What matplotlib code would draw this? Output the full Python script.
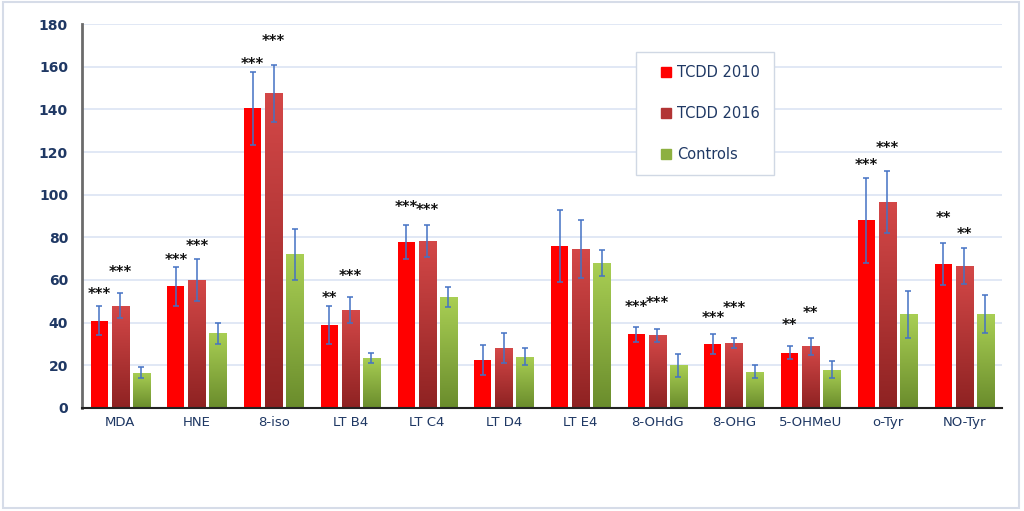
import matplotlib
matplotlib.use("Agg")
import matplotlib.pyplot as plt
import numpy as np
from matplotlib.colors import LinearSegmentedColormap
from matplotlib.lines import Line2D
from matplotlib.patches import Rectangle

# Data
categories = ["MDA", "HNE", "8-iso", "LT B4", "LT C4", "LT D4", "LT E4",
              "8-OHdG", "8-OHG", "5-OHMeU", "o-Tyr", "NO-Tyr"]
tcdd2010 = [41, 57, 140.5, 39, 78, 22.5, 76, 34.5, 30, 26, 88, 67.5]
tcdd2010_err = [7, 9, 17, 9, 8, 7, 17, 3.5, 4.5, 3, 20, 10]
tcdd2016 = [48, 60, 147.5, 46, 78.5, 28, 74.5, 34, 30.5, 29, 96.5, 66.5]
tcdd2016_err = [6, 10, 13.5, 6, 7.5, 7, 13.5, 3, 2.5, 4, 14.5, 8.5]
controls = [16.5, 35, 72, 23.5, 52, 24, 68, 20, 17, 18, 44, 44]
controls_err = [2.5, 5, 12, 2.5, 4.5, 4, 6, 5.5, 3, 4, 11, 9]

# significance marks and the height they sit at
stars2010 = ["***", "***", "***", "**", "***", "", "", "***", "***", "**", "***", "**"]
stars2010_y = [53, 69, 161, 51.5, 94, 0, 0, 47, 42, 38.5, 113.5, 89]
stars2016 = ["***", "***", "***", "***", "***", "", "", "***", "***", "**", "***", "**"]
stars2016_y = [63.5, 75.5, 172, 61.5, 92.5, 0, 0, 49, 46.5, 44.5, 121.5, 81.5]

NAVY = "#1F3864"
ERR = "#4472C4"
RED = "#FF0000"
DARK_TOP, DARK_BOT = "#D44848", "#8E2222"
GREEN_TOP, GREEN_BOT = "#A9CF54", "#6A8C2C"


def gradient_fill(ax, bars, top, bottom):
    """Paint a vertical gradient inside each bar."""
    cmap = LinearSegmentedColormap.from_list("g", [bottom, top])
    grad = np.linspace(0, 1, 256).reshape(-1, 1)
    for b in bars:
        x0, y0 = b.get_x(), b.get_y()
        w, h = b.get_width(), b.get_height()
        im = ax.imshow(grad, cmap=cmap, aspect="auto", origin="lower",
                       extent=[x0, x0 + w, y0, y0 + h], zorder=2.5)
        im.set_clip_path(b)


fig = plt.figure(figsize=(10.24, 5.11), dpi=100)
ax = fig.add_axes([0.080, 0.2016, 0.899, 0.7514])

x = np.arange(len(categories))
step, width = 0.274, 0.222
err_kw = dict(ecolor=ERR, elinewidth=1.1, capsize=2.5, capthick=1.1, zorder=4)

b1 = ax.bar(x - step, tcdd2010, width, yerr=tcdd2010_err, color=RED,
            error_kw=err_kw, zorder=2)
b2 = ax.bar(x, tcdd2016, width, yerr=tcdd2016_err, color=DARK_TOP,
            error_kw=err_kw, zorder=2)
b3 = ax.bar(x + step, controls, width, yerr=controls_err, color=GREEN_TOP,
            error_kw=err_kw, zorder=2)
gradient_fill(ax, b2, DARK_TOP, DARK_BOT)
gradient_fill(ax, b3, GREEN_TOP, GREEN_BOT)

for i in range(len(categories)):
    if stars2010[i]:
        ax.text(x[i] - step, stars2010_y[i], stars2010[i], ha="center",
                va="center", fontsize=10.5, fontweight="bold", color="#111111")
    if stars2016[i]:
        ax.text(x[i], stars2016_y[i], stars2016[i], ha="center",
                va="center", fontsize=10.5, fontweight="bold", color="#111111")

ax.set_xlim(-0.5, len(categories) - 0.5)
ax.set_ylim(0, 180)
ax.set_yticks(range(0, 181, 20))
ax.set_xticks(x, labels=categories)
ax.tick_params(axis="both", length=0)
ax.tick_params(axis="x", labelsize=9.5, labelcolor=NAVY, pad=6)
ax.tick_params(axis="y", labelsize=10, labelcolor=NAVY, pad=10)
for lab in ax.get_yticklabels():
    lab.set_fontweight("bold")
ax.grid(axis="y", color="#D9E1F2", lw=1.1, zorder=0)
ax.set_axisbelow(True)
for s in ["top", "right"]:
    ax.spines[s].set_visible(False)
ax.spines["left"].set_color("#6B6B6B")
ax.spines["left"].set_linewidth(2)
ax.spines["bottom"].set_color("#222222")
ax.spines["bottom"].set_linewidth(1.5)

handles = [Line2D([], [], ls="none", marker="s", markersize=7.5,
                  markerfacecolor=c, markeredgecolor=c)
           for c in (RED, "#B23434", "#8DB040")]
leg = ax.legend(handles, ["TCDD 2010", "TCDD 2016", "Controls"],
                loc="upper left", bbox_to_anchor=(0.602, 0.927),
                fontsize=10.5, labelspacing=1.76, handlelength=2.3,
                handletextpad=-0.4, borderpad=0.92,
                borderaxespad=0, fancybox=False, framealpha=1,
                edgecolor="#D0D8E4")
leg.get_frame().set_linewidth(1.0)
for t in leg.get_texts():
    t.set_color(NAVY)

fig.patches.append(Rectangle((0.003, 0.006), 0.992, 0.99, transform=fig.transFigure,
                             fill=False, edgecolor="#D6DCE8", lw=1.5))

fig.savefig("out.png", dpi=100)
